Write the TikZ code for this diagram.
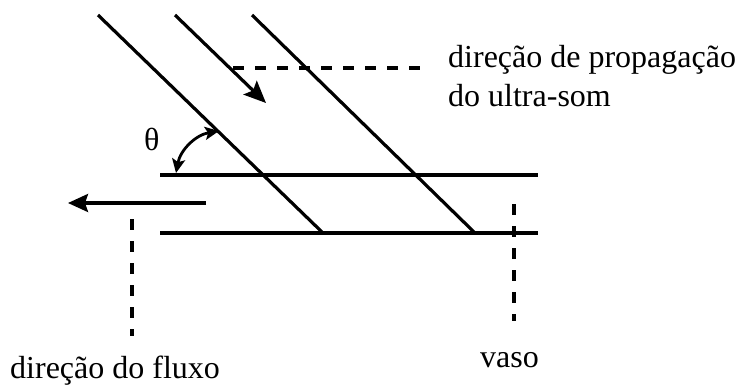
\documentclass[tikz,border=0pt]{standalone}
\usepackage{fontspec}
\setmainfont{Liberation Serif}
\usetikzlibrary{arrows.meta}
\begin{document}
\begin{tikzpicture}[x=1pt,y=-1pt,
  thick line/.style={line width=3.2pt},
  dash line/.style={line width=3.2pt, dash pattern=on 11pt off 11pt},
  lbl/.style={inner sep=0pt, anchor=base west, font=\fontsize{32}{38}\selectfont},
  bigtip/.style={-{Stealth[length=22pt,width=19pt,inset=4pt]}},
  smalltip/.style={{Stealth[length=14pt,width=13pt,inset=3pt]}-{Stealth[length=14pt,width=13pt,inset=3pt]}}]
\useasboundingbox (0,0) rectangle (741,386);
% vessel walls
\coordinate (ul) at (160,175);
\coordinate (ur) at (538,175);
\coordinate (ll) at (160,233);
\coordinate (lr) at (538,233);
\draw[thick line] (ul) -- (ur);
\draw[thick line] (ll) -- (lr);
% ultrasound beams
\coordinate (b1s) at (98,15);
\coordinate (b1e) at (323,233);
\coordinate (b2s) at (175,15);
\coordinate (b2e) at (266,103);
\coordinate (b3s) at (252,15);
\coordinate (b3e) at (475,233);
\draw[thick line] (b1s) -- (b1e);
\draw[thick line, bigtip] (b2s) -- (b2e);
\draw[thick line] (b3s) -- (b3e);
% angle
\coordinate (a1) at (176,173);
\coordinate (a2) at (219,131);
\draw[line width=2.8pt, smalltip] (a1) to[bend left=35] (a2);
\node[lbl] (theta) at (144,150) {θ};
% flow arrow
\coordinate (fs) at (206,203);
\coordinate (fe) at (68,203);
\draw[thick line, -{Stealth[length=20pt,width=18pt,inset=3pt]}] (fs) -- (fe);
% dashed leaders
\coordinate (d1a) at (132,219);
\coordinate (d1b) at (132,336);
\draw[dash line] (d1a) -- (d1b);
\coordinate (d2a) at (514,204);
\coordinate (d2b) at (514,321);
\draw[dash line] (d2a) -- (d2b);
\coordinate (d3a) at (233,68);
\coordinate (d3b) at (426,68);
\draw[dash line] (d3a) -- (d3b);
% labels
\node[lbl] (prop1) at (448,67) {direção de propagação};
\node[lbl] (prop2) at (448,106) {do ultra-som};
\node[lbl] (fluxo) at (10,378) {direção do fluxo};
\node[lbl] (vaso) at (480,367) {vaso};
\end{tikzpicture}
\end{document}
